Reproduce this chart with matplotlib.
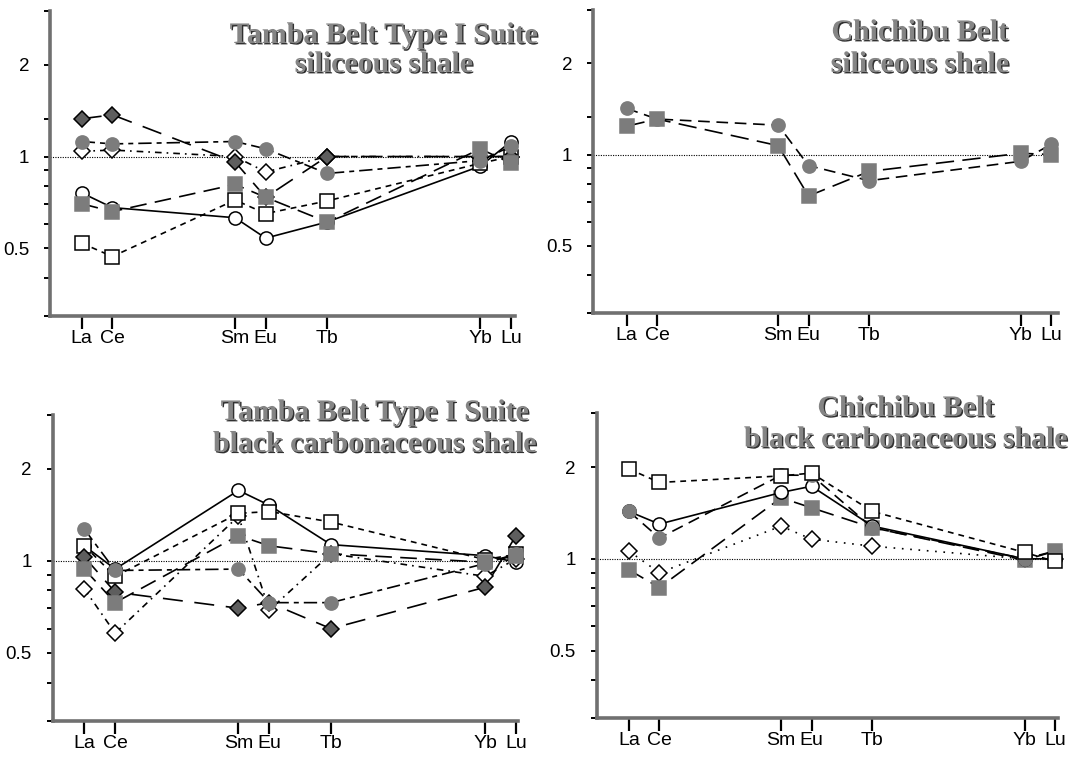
import matplotlib
matplotlib.use("Agg")
import matplotlib.pyplot as plt
import matplotlib.patheffects as pe
from matplotlib.ticker import FixedLocator, NullFormatter

# ---------------- data ----------------
elements = ["La", "Ce", "Sm", "Eu", "Tb", "Yb", "Lu"]
atomic_numbers = [57, 58, 62, 63, 65, 70, 71]

# Tamba Belt Type I Suite, siliceous shale
tl_open_circle = [0.76, 0.68, 0.63, 0.54, 0.61, 0.93, 1.12]
tl_open_diamond = [1.04, 1.05, 1.00, 0.89, 1.00, 1.00, 1.00]
tl_open_square = [0.52, 0.47, 0.72, 0.65, 0.715, 0.95, 1.00]
tl_filled_diamond = [1.33, 1.37, 0.96, 0.735, 1.00, 1.00, 1.00]
tl_filled_circle = [1.12, 1.10, 1.12, 1.06, 0.88, 0.97, 1.08]
tl_filled_square = [0.70, 0.66, 0.81, 0.735, 0.61, 1.06, 0.95]

# Chichibu Belt, siliceous shale
tr_filled_circle = [1.42, 1.31, 1.25, 0.92, 0.82, 0.95, 1.08]
tr_filled_square = [1.24, 1.31, 1.07, 0.73, 0.88, 1.01, 1.00]

# Tamba Belt Type I Suite, black carbonaceous shale
bl_open_circle = [1.12, 0.94, 1.70, 1.52, 1.13, 1.04, 0.99]
bl_open_diamond = [0.81, 0.58, 1.40, 0.69, 1.055, 0.89, 1.015]
bl_open_square = [1.12, 0.89, 1.43, 1.45, 1.34, 1.01, 1.05]
bl_filled_diamond = [1.03, 0.79, 0.70, 0.73, 0.60, 0.82, 1.21]
bl_filled_circle = [1.27, 0.93, 0.94, 0.73, 0.73, 0.98, 1.055]
bl_filled_square = [0.94, 0.73, 1.21, 1.12, 1.055, 0.99, 1.04]

# Chichibu Belt, black carbonaceous shale
br_open_circle = [1.43, 1.30, 1.65, 1.73, 1.28, 1.00, 1.00]
br_open_diamond = [1.06, 0.90, 1.28, 1.16, 1.10, 1.00, 1.00]
br_open_square = [1.97, 1.78, 1.87, 1.91, 1.43, 1.05, 0.98]
br_filled_circle = [1.43, 1.17, 1.88, 1.88, 1.265, 1.00, 1.06]
br_filled_square = [0.92, 0.805, 1.585, 1.47, 1.265, 0.99, 1.06]

y_major = [0.5, 1, 2]
y_major_labels = ["0.5", "1", "2"]

# ---------------- styles ----------------
GRAY = "#7c7c7c"
DGRAY = "#5e5e5e"
styles = {
    "open_circle": dict(marker="o", mfc="white", mec="black", ls="-", ms=9.5),
    "open_diamond": dict(marker="D", mfc="white", mec="black", dashes=(4, 3, 1, 3), ms=8.0),
    "open_square": dict(marker="s", mfc="white", mec="black", dashes=(3.5, 3), ms=9.5),
    "filled_diamond": dict(marker="D", mfc=DGRAY, mec="black", dashes=(12, 7), ms=8.0),
    "filled_circle": dict(marker="o", mfc=GRAY, mec=GRAY, dashes=(8, 3, 3, 3), ms=9.5),
    "filled_square": dict(marker="s", mfc=GRAY, mec=GRAY, dashes=(10, 5), ms=9.5),
}

FIG_W, FIG_H = 1082, 759
fig = plt.figure(figsize=(FIG_W / 100, FIG_H / 100), dpi=100)
plt.rcParams["font.family"] = ["Liberation Sans", "DejaVu Sans"]


def px_rect(l, r, b, t):
    return [l / FIG_W, 1 - b / FIG_H, (r - l) / FIG_W, (b - t) / FIG_H]


panels = [
    dict(rect=px_rect(50, 515, 316, 11), xlim=(55.966, 71.13),
         series=[("open_circle", tl_open_circle), ("open_diamond", tl_open_diamond),
                 ("open_square", tl_open_square), ("filled_diamond", tl_filled_diamond),
                 ("filled_circle", tl_filled_circle), ("filled_square", tl_filled_square)],
         minor=[0.3, 0.4, 0.6, 0.7, 0.8, 0.9, 1.33, 3],
         title=("Tamba Belt Type I Suite", "siliceous shale"), tx=384, ty=(43, 72)),
    dict(rect=px_rect(593.3, 1058, 313, 10), xlim=(55.9, 71.23),
         series=[("filled_circle", tr_filled_circle), ("filled_square", tr_filled_square)],
         minor=[0.3, 0.4, 0.6, 0.7, 0.8, 0.9, 1.33, 3],
         title=("Chichibu Belt", "siliceous shale"), tx=920, ty=(40, 72),
         override={"filled_circle": dict(dashes=(7, 4)), "filled_square": dict(dashes=(11, 5))}),
    dict(rect=px_rect(52.7, 518.3, 720.7, 415), xlim=(55.975, 71.075),
         series=[("open_circle", bl_open_circle), ("open_diamond", bl_open_diamond),
                 ("open_square", bl_open_square), ("filled_diamond", bl_filled_diamond),
                 ("filled_circle", bl_filled_circle), ("filled_square", bl_filled_square)],
         minor=[0.3, 0.4, 0.6, 0.7, 0.8, 0.9, 3],
         title=("Tamba Belt Type I Suite", "black carbonaceous shale"), tx=375, ty=(420, 451.7)),
    dict(rect=px_rect(596.7, 1058, 718.3, 413.3), xlim=(55.94, 71.1),
         series=[("open_diamond", br_open_diamond), ("filled_square", br_filled_square),
                 ("open_circle", br_open_circle), ("filled_circle", br_filled_circle),
                 ("open_square", br_open_square)],
         minor=[0.3, 0.4, 0.6, 0.7, 0.8, 0.9, 3],
         title=("Chichibu Belt", "black carbonaceous shale"), tx=906, ty=(416, 447),
         override={"open_diamond": dict(dashes=(1, 4)), "filled_circle": dict(dashes=(7, 4))}),
]

title_effects = [pe.withSimplePatchShadow(offset=(1.0, -1.0), shadow_rgbFace="#1a1a1a", alpha=0.9)]

for p in panels:
    ax = fig.add_axes(p["rect"])
    ax.set_yscale("log")
    ax.set_ylim(0.3, 3.0)
    ax.set_xlim(*p["xlim"])
    ax.axhline(1.0, color="black", lw=0.8, ls=(0, (1, 1.2)), zorder=1)
    ov = p.get("override", {})
    for key, vals in p["series"]:
        st = dict(styles[key])
        st.update(ov.get(key, {}))
        kw = dict(marker=st["marker"], mfc=st["mfc"], mec=st["mec"], ms=st["ms"], mew=1.1,
                  color="black", lw=1.2, clip_on=False, zorder=3)
        if "dashes" in st:
            kw["dashes"] = st["dashes"]
        else:
            kw["ls"] = st["ls"]
        ax.plot(atomic_numbers, vals, **kw)
    for s in ("top", "right"):
        ax.spines[s].set_visible(False)
    for s in ("left", "bottom"):
        ax.spines[s].set_linewidth(2.6)
        ax.spines[s].set_color("#707070")
    ax.set_xticks(atomic_numbers)
    ax.set_xticklabels(elements, fontsize=14)
    ax.tick_params(axis="x", direction="out", length=9, width=1.6, pad=1, colors="black")
    ax.yaxis.set_major_locator(FixedLocator(y_major))
    ax.set_yticklabels(y_major_labels)
    ax.yaxis.set_minor_locator(FixedLocator(p["minor"]))
    ax.yaxis.set_minor_formatter(NullFormatter())
    ax.tick_params(axis="y", which="both", direction="out", length=4, width=1.4, pad=11,
                   labelsize=13.5)
    l1, l2 = p["title"]
    for txt, yy in zip((l1, l2), p["ty"]):
        fig.text(p["tx"] / FIG_W, 1 - yy / FIG_H, txt, ha="center", va="baseline",
                 fontsize=21.5, fontweight="bold", color="#858585",
                 family=["Liberation Serif", "DejaVu Serif"], path_effects=title_effects)

fig.savefig("out.png", dpi=100)
